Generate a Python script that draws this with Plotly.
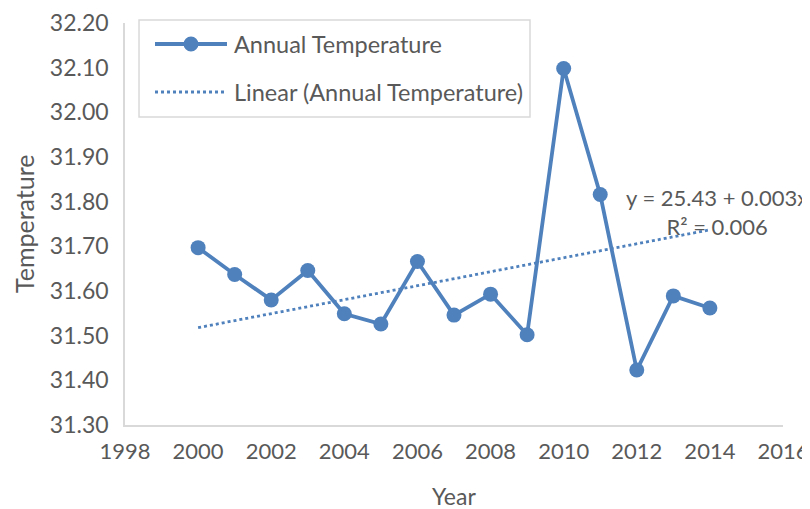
import plotly.graph_objects as go

years = list(range(2000, 2015))
temps = [31.697, 31.637, 31.580, 31.646, 31.549, 31.526, 31.666, 31.546,
         31.593, 31.502, 32.098, 31.816, 31.423, 31.589, 31.562]
trend_years = [2000, 2014]
trend_vals = [31.518, 31.737]
x_ticks = list(range(1998, 2017, 2))
y_ticks = [31.30, 31.40, 31.50, 31.60, 31.70, 31.80, 31.90, 32.00, 32.10, 32.20]
series_names = ["Annual Temperature", "Linear (Annual Temperature)"]

blue = "#4F81BD"
gray_text = "#595959"
font_family = "Lato, 'Open Sans', sans-serif"

fig = go.Figure()
fig.add_trace(go.Scatter(
    x=years, y=temps, mode="lines+markers", name=series_names[0],
    line=dict(color=blue, width=3.8),
    marker=dict(color=blue, size=15),
))
fig.add_trace(go.Scatter(
    x=trend_years, y=trend_vals, mode="lines", name=series_names[1],
    line=dict(color=blue, width=2.8, dash="dot"),
))

# custom legend (box, symbols, labels) in paper coordinates
fig.add_shape(type="rect", xref="paper", yref="paper", x0=0.0213, x1=0.6155, y0=0.766, y1=1.0075,
              line=dict(color="#D9D9D9", width=1.5), fillcolor="white", layer="above")
fig.add_shape(type="line", xref="paper", yref="paper", x0=0.0456, x1=0.155, y0=0.9478, y1=0.9478,
              line=dict(color=blue, width=3.8), layer="above")
fig.add_shape(type="circle", xref="paper", yref="paper", xsizemode="pixel", ysizemode="pixel",
              xanchor=0.1003, yanchor=0.9478, x0=-7.5, x1=7.5, y0=-7.5, y1=7.5,
              line=dict(color=blue, width=0), fillcolor=blue, layer="above")
fig.add_shape(type="line", xref="paper", yref="paper", x0=0.0456, x1=0.155, y0=0.8284, y1=0.8284,
              line=dict(color=blue, width=2.8, dash="dot"), layer="above")
for name, ypos in zip(series_names, [0.9478, 0.8284]):
    fig.add_annotation(x=0.1627, y=ypos, xref="paper", yref="paper", xanchor="left", yanchor="middle",
                       text=name, showarrow=False,
                       font=dict(size=23.5, color=gray_text, family=font_family))

fig.add_annotation(
    x=2014.2, y=31.777, xref="x", yref="y",
    text="y = 25.43 + 0.003x<br>R² = 0.006", showarrow=False,
    align="center", font=dict(size=22, color=gray_text, family=font_family),
)
fig.add_annotation(
    x=0.5, y=0, xref="paper", yref="paper", xanchor="center", yanchor="middle",
    text="Year", showarrow=False, yshift=-71,
    font=dict(size=23, color=gray_text, family=font_family),
)
fig.add_annotation(
    x=0, y=0.5, xref="paper", yref="paper", xanchor="center", yanchor="middle",
    text="Temperature", showarrow=False, textangle=-90, xshift=-101,
    font=dict(size=25, color=gray_text, family=font_family),
)

fig.update_layout(
    width=810, height=509,
    margin=dict(l=117, r=35, t=15, b=92),
    paper_bgcolor="white", plot_bgcolor="white",
    font=dict(family=font_family, size=22, color=gray_text),
    showlegend=False,
    xaxis=dict(
        range=[1998, 2016], tickvals=x_ticks, ticktext=[str(v) for v in x_ticks],
        showgrid=False, zeroline=False, showline=True, linecolor="#D9D9D9", linewidth=1.5,
        ticks="", automargin=False, ticklabelstandoff=6, tickfont=dict(size=22),
    ),
    yaxis=dict(
        range=[31.30, 32.20], tickvals=y_ticks, ticktext=[f"{v:.2f}" for v in y_ticks],
        showgrid=False, zeroline=False, showline=True, linecolor="#D9D9D9", linewidth=1.5,
        ticks="", automargin=False, ticklabelstandoff=10, tickfont=dict(size=23),
    ),
)

fig.write_html("out.html")
